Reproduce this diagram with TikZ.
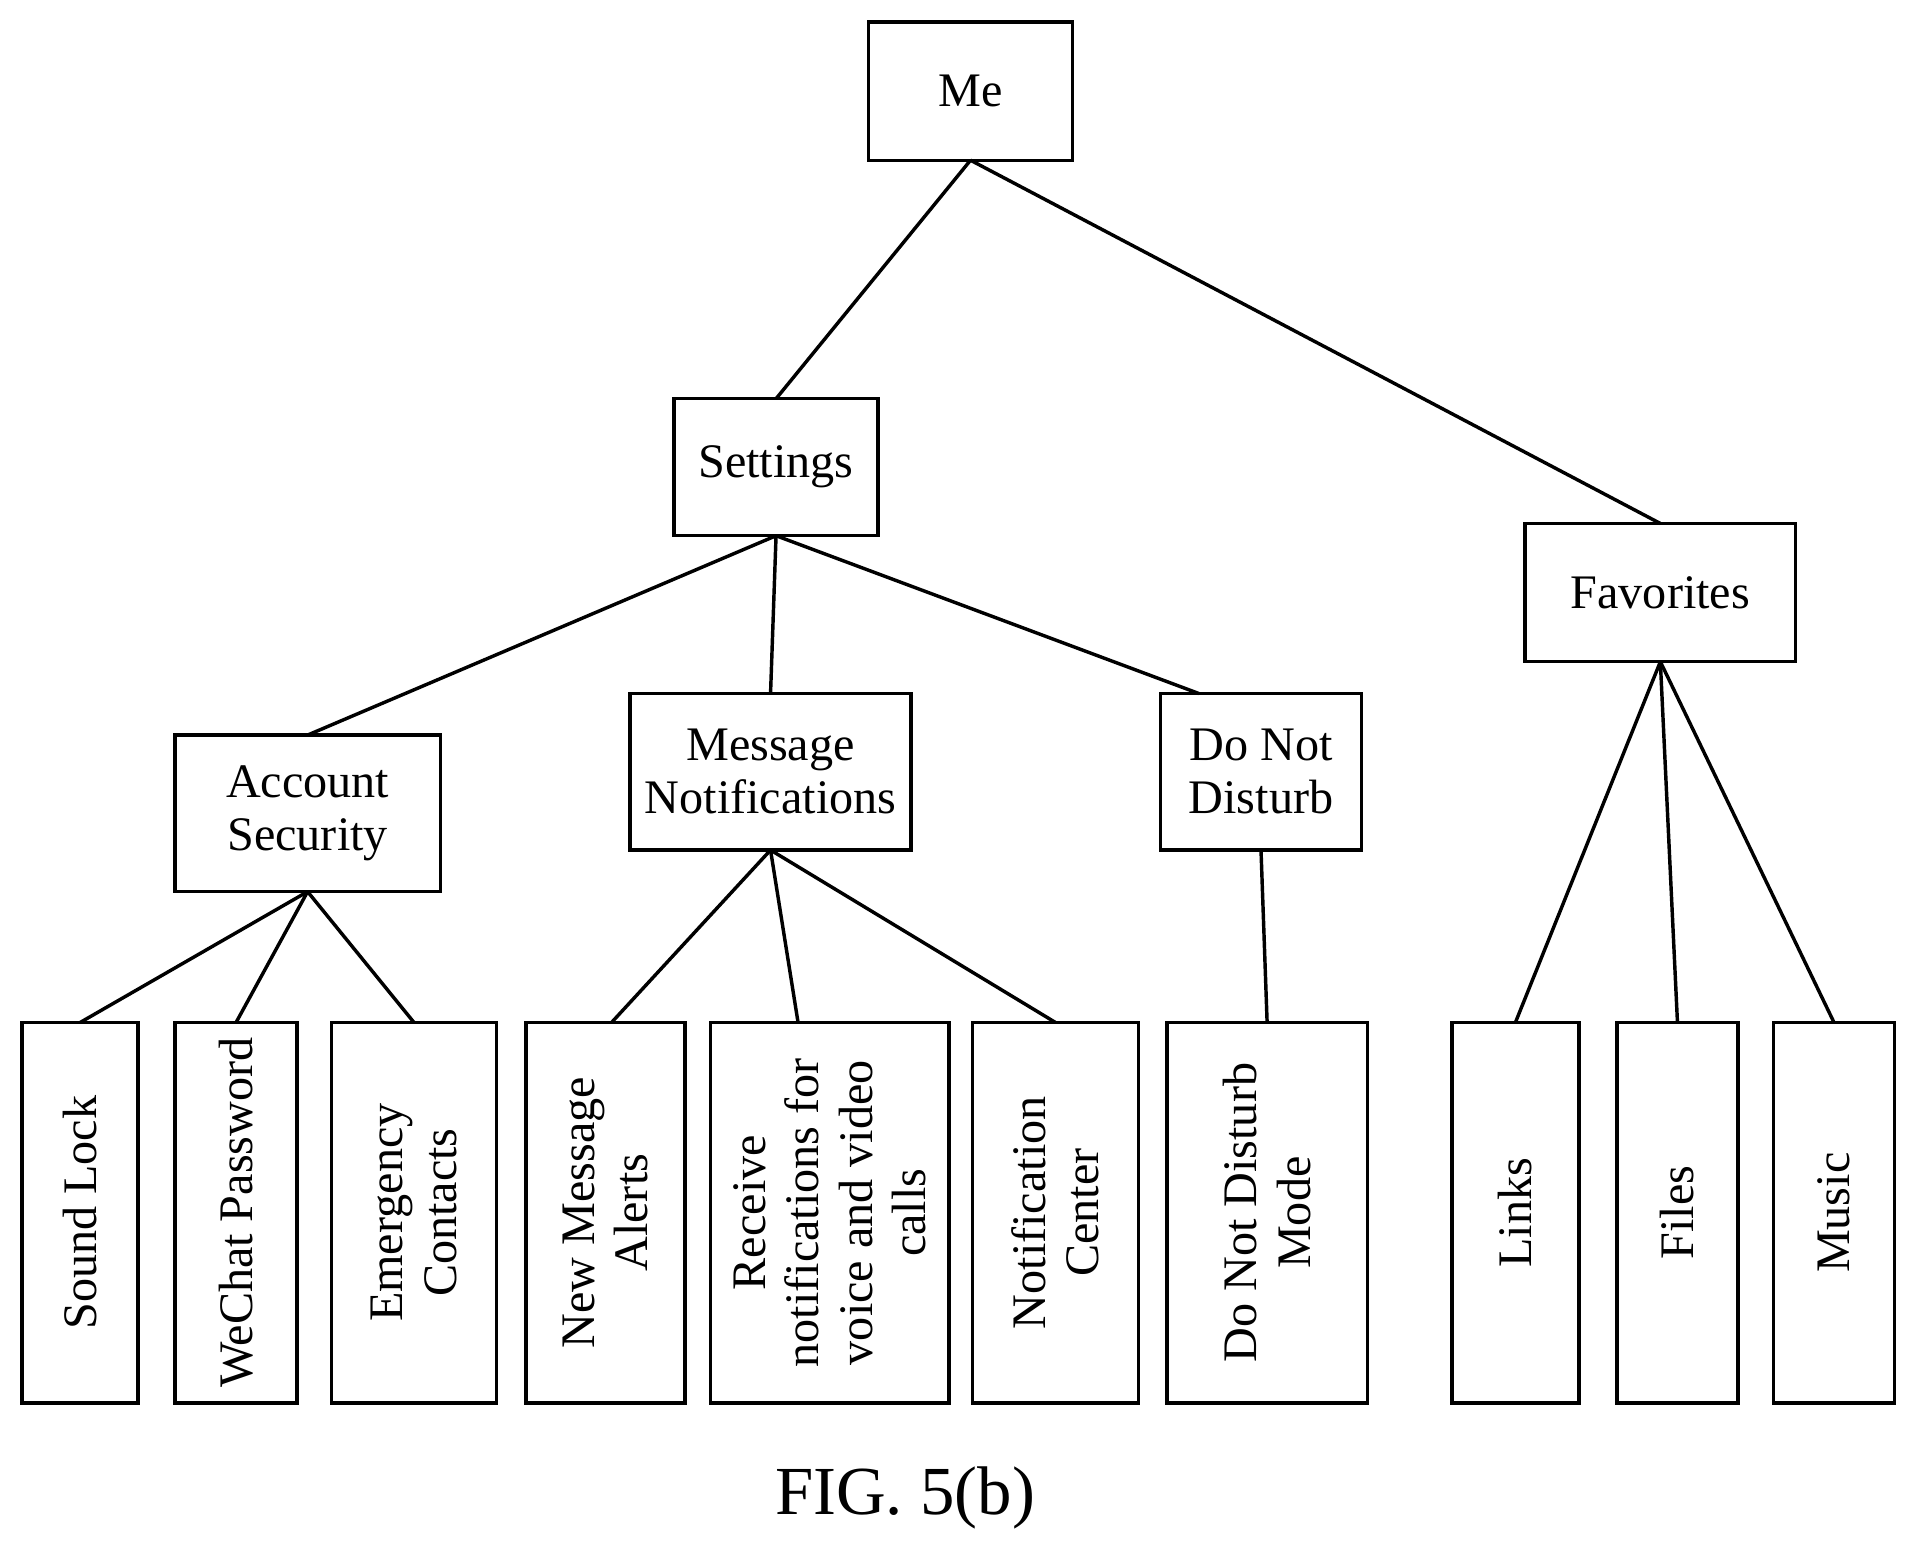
\documentclass[tikz,border=0pt]{standalone}
\usepackage{fontspec}
\setmainfont{Liberation Serif}
\usetikzlibrary{calc}
\newcommand\px[1]{#1*0.0125cm}
\begin{document}
\begin{tikzpicture}[x=0.0125cm,y=-0.0125cm,
    box/.style={draw,line width=1pt,align=center,inner sep=0pt,outer sep=0pt},
    leaf/.style={box,rotate=90,minimum width={\px{311}}},
    font=\fontsize{14}{15.5}\selectfont]
    \useasboundingbox (0,0) rectangle (1560,1262);
    \node[box,minimum width={\px{167}},minimum height={\px{113}}] (me) at (793.5,74.5) {Me};
    \node[box,minimum width={\px{167}},minimum height={\px{112}}] (set) at (634.5,382) {Settings};
    \node[box,minimum width={\px{221}},minimum height={\px{113}}] (fav) at (1357.5,484.5) {Favorites};
    \node[box,minimum width={\px{217}},minimum height={\px{128}}] (acc) at (251.5,665) {Account\\Security};
    \node[box,minimum width={\px{230}},minimum height={\px{128}}] (msg) at (630,631) {Message\\Notifications};
    \node[box,minimum width={\px{164}},minimum height={\px{128}}] (dnd) at (1031,631) {Do Not\\Disturb};
    % leaves
    \node[leaf,minimum height={\px{95}}] (lock) at (65.5,991.5) {Sound Lock};
    \node[leaf,minimum height={\px{100}}] (pwd) at (193,991.5) {WeChat Password};
    \node[leaf,minimum height={\px{135}}] (emer) at (338.5,991.5) {Emergency\\Contacts};
    \node[leaf,minimum height={\px{130}}] (alert) at (495,991.5) {New Message\\Alerts};
    \node[leaf,minimum height={\px{195}}] (recv) at (678.5,991.5) {Receive\\notifications for\\voice and video\\calls};
    \node[leaf,minimum height={\px{136}}] (center) at (863,991.5) {Notification\\Center};
    \node[leaf,minimum height={\px{164}}] (mode) at (1036,991.5) {Do Not Disturb\\Mode};
    \node[leaf,minimum height={\px{104}}] (links) at (1239,991.5) {Links};
    \node[leaf,minimum height={\px{99}}] (files) at (1371.5,991.5) {Files};
    \node[leaf,minimum height={\px{99}}] (music) at (1499.5,991.5) {Music};
    \node[font=\fontsize{20}{22}\selectfont] (cap) at (740,1225) {FIG. 5(b)};

    \draw[line width=1pt] (me.south) -- (set.north);
    \draw[line width=1pt] (me.south) -- (fav.north);
    \draw[line width=1pt] (set.south) -- (acc.north);
    \draw[line width=1pt] (set.south) -- (msg.north);
    \draw[line width=1pt] (set.south) -- ($(dnd.north west)!0.19!(dnd.north east)$);
    \draw[line width=1pt] (acc.south) -- (lock.east);
    \draw[line width=1pt] (acc.south) -- (pwd.east);
    \draw[line width=1pt] (acc.south) -- (emer.east);
    \draw[line width=1pt] (msg.south) -- ($(alert.east)+(5,0)$);
    \draw[line width=1pt] (msg.south) -- ($(recv.east)+(-26,0)$);
    \draw[line width=1pt] (msg.south) -- (center.east);
    \draw[line width=1pt] (dnd.south) -- (mode.east);
    \draw[line width=1pt] (fav.south) -- (links.east);
    \draw[line width=1pt] (fav.south) -- (files.east);
    \draw[line width=1pt] (fav.south) -- (music.east);
\end{tikzpicture}
\end{document}
